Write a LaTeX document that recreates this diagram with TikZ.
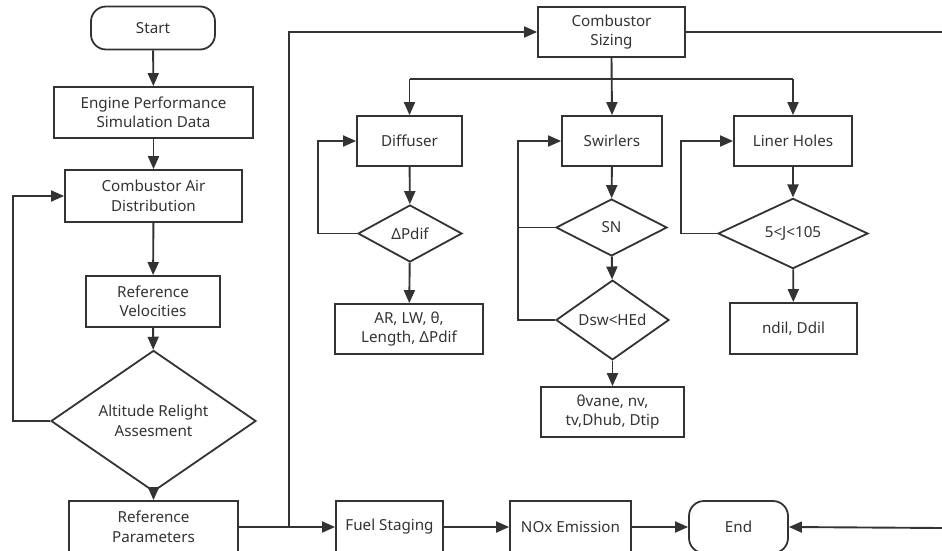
\documentclass[tikz,border=0pt]{standalone}
\usepackage{fontspec}
\setmainfont{Noto Sans}
\usetikzlibrary{arrows.meta,shapes.geometric,calc}
\definecolor{ln}{HTML}{333333}
\definecolor{tx}{HTML}{333333}
\begin{document}
\begin{tikzpicture}[x=1pt,y=-1pt,
  every node/.style={font=\fontsize{15.2}{19.5}\selectfont, text=tx, align=center, inner sep=0pt},
  box/.style={draw=ln, line width=1.8pt, rectangle},
  term/.style={draw=ln, line width=1.8pt, rectangle, rounded corners=15pt},
  dec/.style={draw=ln, line width=1.8pt, diamond},
  conn/.style={draw=ln, line width=1.9pt},
  arr/.style={conn, -{Triangle[length=13pt,width=11pt]}}]
\useasboundingbox (0,0) rectangle (942,551);
% left column
\node[term, minimum width=124pt, minimum height=43pt] (start) at (153,28) {Start};
\node[box, minimum width=199pt, minimum height=51pt] (epsd) at (153.5,112.5) {Engine Performance\\Simulation Data};
\node[box, minimum width=177pt, minimum height=52pt] (cad) at (153.5,196) {Combustor Air\\Distribution};
\node[box, minimum width=134pt, minimum height=51pt] (rv) at (153,301.5) {Reference\\Velocities};
\node[dec, minimum width=205pt, minimum height=88pt] (arw) at (153.5,421) {Altitude Relight\\Assesment};
\node[box, minimum width=169pt, minimum height=52pt] (rp) at (153.5,527) {Reference\\Parameters};
% bottom row
\node[box, minimum width=107pt, minimum height=52pt] (fs) at (389.5,527) {Fuel Staging};
\node[box, minimum width=121pt, minimum height=52pt] (nox) at (570.5,527) {NOx Emission};
\node[term, minimum width=99pt, minimum height=52pt] (end) at (738.5,527) {End};
% combustor sizing
\node[box, minimum width=147pt, minimum height=50pt] (cs) at (611.5,32) {Combustor\\Sizing};
% diffuser column
\node[box, minimum width=105pt, minimum height=50pt] (dif) at (409.5,141) {Diffuser};
\node[dec, minimum width=104pt, minimum height=57pt] (dp) at (410,233.5) {ΔPdif};
\node[box, minimum width=148pt, minimum height=50pt] (ar) at (409,329) {AR, LW, θ,\\Length, ΔPdif};
% swirlers column
\node[box, minimum width=100pt, minimum height=50pt] (sw) at (612,141) {Swirlers};
\node[dec, minimum width=111pt, minimum height=57pt] (sn) at (611.5,227.5) {SN};
\node[dec, minimum width=113pt, minimum height=56pt] (dsw) at (612.5,320) {Dsw<HEd};
\node[box, minimum width=143pt, minimum height=50pt] (tv) at (612.5,412) {θvane, nv,\\tv,Dhub, Dtip};
% liner holes column
\node[box, minimum width=118pt, minimum height=50pt] (lh) at (793,141) {Liner Holes};
\node[dec, minimum width=150pt, minimum height=57pt] (jj) at (793,233.5) {5<J<105};
\node[box, minimum width=127pt, minimum height=51pt] (nd) at (793.5,328.5) {ndil, Ddil};
% coordinates
\coordinate (j1) at (289,527);
\coordinate (csR) at (942,32);
\coordinate (endR) at (942,528);
\coordinate (fbL) at (13,196);
\coordinate (bl) at (409.5,79);
\coordinate (br) at (793,79);
\coordinate (fbD) at (318,141);
\coordinate (fbS) at (518,141);
\coordinate (fbJ) at (681,141);
% connectors
\draw[arr] (start) -- (epsd);
\draw[arr] (epsd) -- (cad);
\draw[arr] (cad) -- (rv);
\draw[arr] (rv) -- (arw);
\draw[arr] (arw) -- (rp);
\draw[arr] (arw.west) -| (fbL) -- (cad.west);
\draw[conn] (rp.east) -- (j1);
\draw[arr] (j1) -- (fs.west);
\draw[arr] (j1) |- (cs.west);
\draw[arr] (fs) -- (nox);
\draw[arr] (nox) -- (end);
\draw[arr] (endR) -- (end.east);
\draw[conn] (cs.east) -- (csR);
\draw[arr] (cs.south) -- (sw.north);
\draw[conn] (bl) -- (br);
\draw[arr] (bl) -- (dif.north);
\draw[arr] (br) -- (lh.north);
\draw[arr] (dif) -- (dp);
\draw[arr] (dp) -- (ar);
\draw[arr] (dp.west) -| (fbD) -- (dif.west);
\draw[arr] (sw) -- (sn);
\draw[arr] (sn) -- (dsw);
\draw[arr] (dsw) -- (tv);
\draw[arr] (dsw.west) -| (fbS) -- (sw.west);
\draw[conn] (sn.west) -- (sn.west -| fbS);
\draw[arr] (lh) -- (jj);
\draw[arr] (jj) -- (nd);
\draw[arr] (jj.west) -| (fbJ) -- (lh.west);
\end{tikzpicture}
\end{document}
